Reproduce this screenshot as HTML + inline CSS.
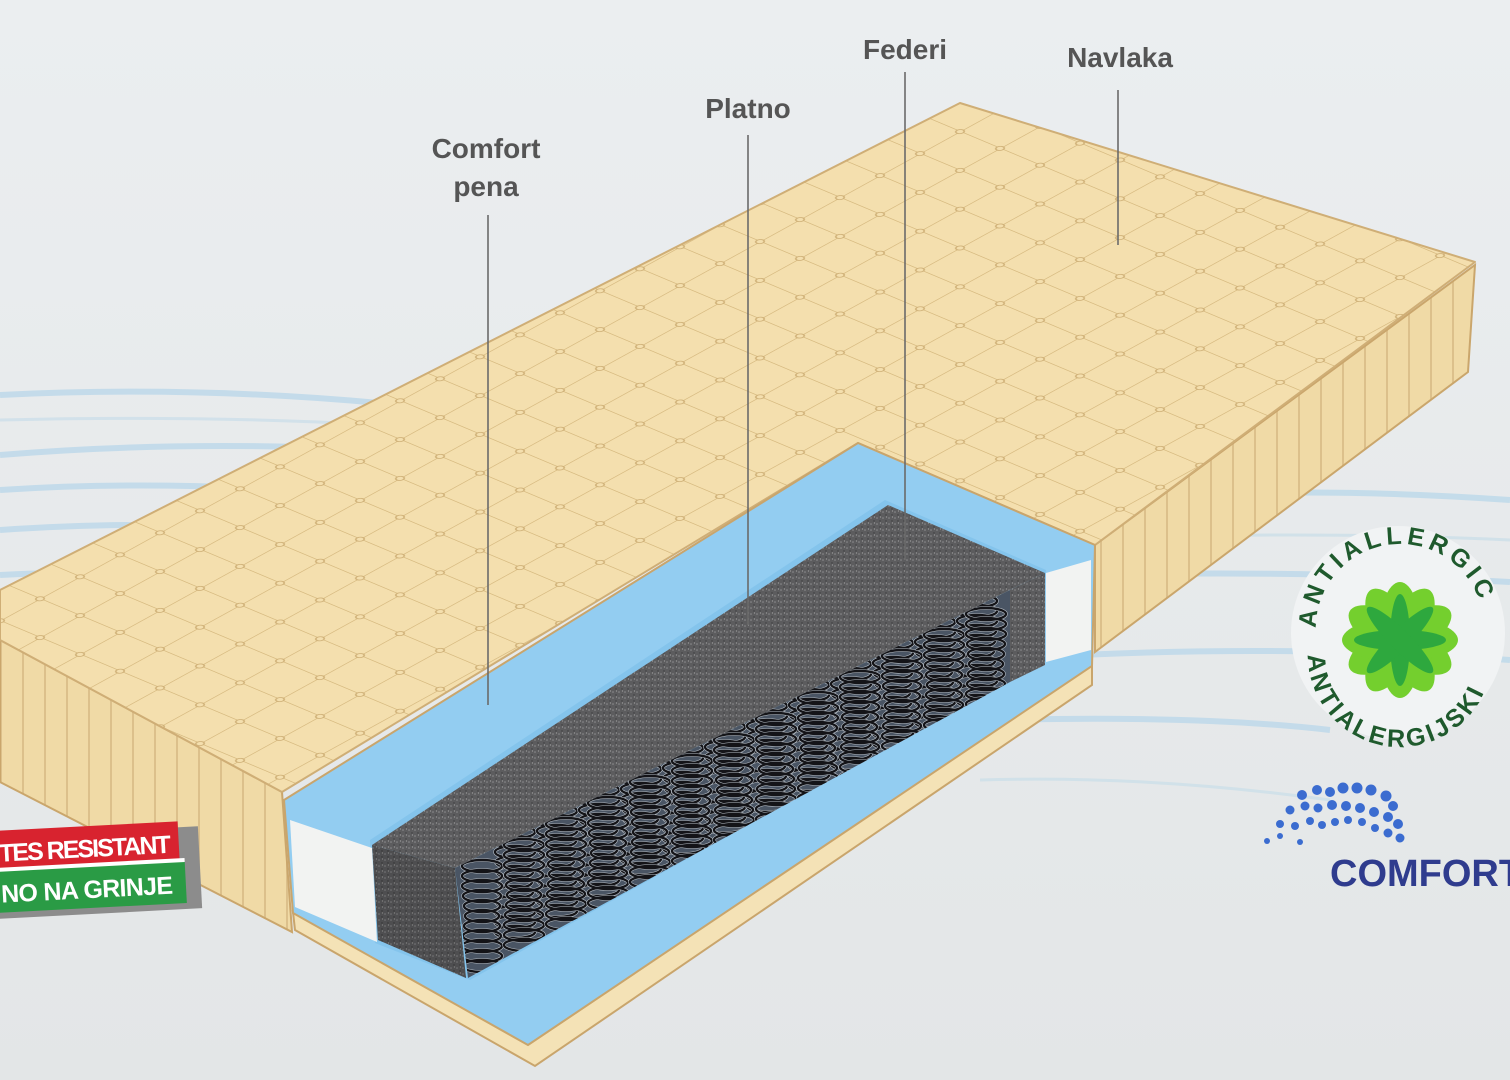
<!DOCTYPE html>
<html><head><meta charset="utf-8"><style>
html,body{margin:0;padding:0;background:#e7eaeb;}
svg{display:block}
text{font-family:"Liberation Sans",sans-serif;}
</style></head><body>
<svg width="1510" height="1080" viewBox="0 0 1510 1080" xmlns="http://www.w3.org/2000/svg">
<defs>
<linearGradient id="bg" x1="0" y1="0" x2="0" y2="1"><stop offset="0" stop-color="#ebeef0"/><stop offset="1" stop-color="#e3e6e7"/></linearGradient>
<pattern id="quilt" width="40" height="40" patternUnits="userSpaceOnUse" patternTransform="matrix(1,-0.55,1,0.42,0,0)">
<rect width="40" height="40" fill="#f4dfae"/>
<path d="M0 0H40M0 0V40" stroke="#d6b97f" stroke-width="1.6" fill="none"/>
<circle cx="0" cy="0" r="3" fill="#f4dfae" stroke="#cfb077" stroke-width="1.2"/>
<circle cx="40" cy="0" r="3" fill="#f4dfae" stroke="#cfb077" stroke-width="1.2"/>
<circle cx="0" cy="40" r="3" fill="#f4dfae" stroke="#cfb077" stroke-width="1.2"/>
<circle cx="40" cy="40" r="3" fill="#f4dfae" stroke="#cfb077" stroke-width="1.2"/>
</pattern>
<pattern id="stripes" width="22" height="40" patternUnits="userSpaceOnUse">
<rect width="22" height="40" fill="#f0daa6"/>
<rect width="2" height="40" fill="#dcc08b"/>
</pattern>
<pattern id="felt" width="6" height="6" patternUnits="userSpaceOnUse">
<rect width="6" height="6" fill="#5c5c5e"/>
<circle cx="1" cy="2" r="0.8" fill="#8e8e90"/><circle cx="4" cy="5" r="0.7" fill="#3b3b3d"/><circle cx="4.5" cy="1" r="0.6" fill="#a0a0a0"/>
</pattern>
<g id="spring">
<g fill="none" stroke="#b9c0c8" stroke-width="3.5">
<ellipse cx="0" cy="0" rx="20" ry="6"/><ellipse cx="0" cy="10" rx="20" ry="6"/><ellipse cx="0" cy="20" rx="20" ry="6"/><ellipse cx="0" cy="30" rx="19" ry="6"/><ellipse cx="0" cy="40" rx="18" ry="6"/><ellipse cx="0" cy="50" rx="17" ry="6"/><ellipse cx="0" cy="60" rx="18" ry="6"/><ellipse cx="0" cy="70" rx="19" ry="6"/><ellipse cx="0" cy="80" rx="20" ry="6"/><ellipse cx="0" cy="90" rx="20" ry="6"/><ellipse cx="0" cy="100" rx="20" ry="6"/>
</g>
<g fill="none" stroke="#141418" stroke-width="2.4">
<ellipse cx="0" cy="0" rx="20" ry="6"/><ellipse cx="0" cy="10" rx="20" ry="6"/><ellipse cx="0" cy="20" rx="20" ry="6"/><ellipse cx="0" cy="30" rx="19" ry="6"/><ellipse cx="0" cy="40" rx="18" ry="6"/><ellipse cx="0" cy="50" rx="17" ry="6"/><ellipse cx="0" cy="60" rx="18" ry="6"/><ellipse cx="0" cy="70" rx="19" ry="6"/><ellipse cx="0" cy="80" rx="20" ry="6"/><ellipse cx="0" cy="90" rx="20" ry="6"/><ellipse cx="0" cy="100" rx="20" ry="6"/>
</g>
</g>
<clipPath id="inner"><polygon points="455,868 1010,590 1010,682 468,978"/></clipPath>
</defs>
<rect width="1510" height="1080" fill="url(#bg)"/>
<g fill="none" stroke="#bcd8ea" stroke-width="6" opacity="0.8">
<path d="M0 395 Q200 385 400 405"/>
<path d="M0 455 Q180 440 380 450"/>
<path d="M0 490 Q150 480 320 492"/>
<path d="M0 530 Q150 520 270 530"/>
<path d="M0 575 Q80 570 160 578"/>
<path d="M1100 500 Q1300 485 1510 500"/>
<path d="M1100 575 Q1300 570 1510 582"/>
<path d="M1080 655 Q1300 645 1510 660"/>
<path d="M1000 720 Q1200 715 1330 730"/>
</g>
<g fill="none" stroke="#ccdfe9" stroke-width="3" opacity="0.8">
<path d="M980 780 Q1150 775 1330 800"/>
<path d="M1060 540 Q1300 530 1510 540"/>
<path d="M0 420 Q200 415 380 425"/>
</g>
<polygon points="0,640 282,792 292,932 0,782" fill="url(#stripes)" stroke="#caa66c" stroke-width="2"/>
<polygon points="1095,545 1475,265 1468,372 1095,652" fill="url(#stripes)" stroke="#caa66c" stroke-width="2"/>
<polygon points="0,590 960,103 1475,262 1095,545 858,443 282,792 0,640" fill="url(#quilt)" stroke="#cfae76" stroke-width="2" stroke-linejoin="round"/>
<polygon points="293,912 528,1045 1092,665 1092,685 535,1066 295,930" fill="#f4e2b6" stroke="#c9a56c" stroke-width="2"/>
<polygon points="284,800 858,443 1095,545 1092,666 528,1045 293,913" fill="#93cdf1" stroke="#c9a56c" stroke-width="2"/>
<polygon points="370,840 885,500 1046,570 1040,662 470,980 375,943" fill="#84c4ec"/>
<polygon points="290,820 372,848 377,942 295,907" fill="#f2f3f2"/>
<polygon points="1046,573 1091,560 1091,650 1046,662" fill="#f2f3f2"/>
<polygon points="455,868 1010,590 1010,682 468,978" fill="#4a5564"/>
<g clip-path="url(#inner)">
<use href="#spring" x="515" y="832"/><use href="#spring" x="557" y="811"/><use href="#spring" x="599" y="790"/><use href="#spring" x="641" y="769"/><use href="#spring" x="683" y="748"/><use href="#spring" x="725" y="727"/><use href="#spring" x="767" y="706"/><use href="#spring" x="809" y="685"/><use href="#spring" x="851" y="664"/><use href="#spring" x="893" y="643"/><use href="#spring" x="935" y="622"/><use href="#spring" x="977" y="601"/>
<use href="#spring" x="482" y="866"/><use href="#spring" x="524" y="845"/><use href="#spring" x="566" y="824"/><use href="#spring" x="608" y="803"/><use href="#spring" x="650" y="782"/><use href="#spring" x="692" y="761"/><use href="#spring" x="734" y="740"/><use href="#spring" x="776" y="719"/><use href="#spring" x="818" y="698"/><use href="#spring" x="860" y="677"/><use href="#spring" x="902" y="656"/><use href="#spring" x="944" y="635"/><use href="#spring" x="986" y="614"/>
</g>
<polygon points="372,845 888,505 1045,573 1010,590 455,868" fill="url(#felt)"/>
<polygon points="372,845 455,868 466,978 378,940" fill="url(#felt)"/>
<polygon points="1010,590 1045,573 1045,665 1010,682" fill="url(#felt)"/>
<polygon points="372,845 455,868 466,978 378,940" fill="#000" opacity="0.15"/>
<g stroke="#6a6a6a" stroke-width="1.6">
<line x1="905" y1="72" x2="905" y2="560"/>
<line x1="1118" y1="90" x2="1118" y2="245"/>
<line x1="748" y1="135" x2="748" y2="625"/>
<line x1="488" y1="215" x2="488" y2="705"/>
</g>
<g font-size="28" font-weight="bold" fill="#555" text-anchor="middle">
<text x="905" y="59">Federi</text>
<text x="1120" y="67">Navlaka</text>
<text x="748" y="118">Platno</text>
<text x="486" y="158">Comfort</text>
<text x="486" y="196">pena</text>
</g>
<g transform="rotate(-3 90 870)">
<rect x="-10" y="832" width="210" height="82" fill="#8c8c8c"/>
<rect x="-10" y="826" width="190" height="40" fill="#d8232f"/>
<rect x="-10" y="866" width="195" height="42" fill="#2a9b45"/>
<rect x="-10" y="863" width="195" height="4" fill="#fff"/>
<text x="0" y="857" font-size="25" font-weight="bold" fill="#fff" textLength="172">TES RESISTANT</text>
<text x="0" y="898" font-size="25" font-weight="bold" fill="#fff" textLength="172">NO NA GRINJE</text>
</g>
<circle cx="1398" cy="633" r="107" fill="#f1f3f4"/>
<g transform="translate(1400,640)">
<g fill="#74cf2e">
<ellipse rx="22" ry="58" transform="rotate(0)"/><ellipse rx="22" ry="58" transform="rotate(30)"/><ellipse rx="22" ry="58" transform="rotate(60)"/><ellipse rx="22" ry="58" transform="rotate(90)"/><ellipse rx="22" ry="58" transform="rotate(120)"/><ellipse rx="22" ry="58" transform="rotate(150)"/>
</g>
<g fill="#2ea83e">
<ellipse rx="10" ry="46" transform="rotate(0)"/><ellipse rx="10" ry="46" transform="rotate(45)"/><ellipse rx="10" ry="46" transform="rotate(90)"/><ellipse rx="10" ry="46" transform="rotate(135)"/>
</g>
</g>
<path id="arcTop" d="M1316 628 A84 84 0 0 1 1484 628" fill="none"/>
<path id="arcBot" d="M1308 655 A92 92 0 0 0 1492 655" fill="none"/>
<text font-size="25" font-weight="bold" fill="#1f5a2d"><textPath href="#arcTop" textLength="235">ANTIALLERGIC</textPath></text>
<text font-size="25" font-weight="bold" fill="#1f5a2d"><textPath href="#arcBot" textLength="250">ANTIALERGIJSKI</textPath></text>
<g fill="#3b6cd0">
<circle cx="1267" cy="841" r="3"/><circle cx="1280" cy="836" r="3"/><circle cx="1300" cy="842" r="3"/>
<circle cx="1280" cy="824" r="4"/><circle cx="1295" cy="826" r="4"/><circle cx="1310" cy="821" r="4"/><circle cx="1322" cy="825" r="4"/><circle cx="1335" cy="822" r="4"/><circle cx="1348" cy="820" r="4"/><circle cx="1362" cy="822" r="4"/><circle cx="1375" cy="828" r="4"/><circle cx="1388" cy="833" r="4.5"/><circle cx="1400" cy="838" r="4.5"/>
<circle cx="1290" cy="810" r="4.5"/><circle cx="1305" cy="806" r="4.5"/><circle cx="1318" cy="808" r="4.5"/><circle cx="1332" cy="805" r="5"/><circle cx="1346" cy="806" r="5"/><circle cx="1360" cy="808" r="5"/><circle cx="1374" cy="812" r="5"/><circle cx="1388" cy="817" r="5"/><circle cx="1398" cy="824" r="5"/>
<circle cx="1302" cy="795" r="5"/><circle cx="1317" cy="790" r="5"/><circle cx="1330" cy="792" r="5"/><circle cx="1343" cy="788" r="5.5"/><circle cx="1357" cy="788" r="5.5"/><circle cx="1371" cy="790" r="5.5"/><circle cx="1386" cy="796" r="5.5"/><circle cx="1393" cy="806" r="5"/>
</g>
<text x="1330" y="886" font-size="38" font-weight="bold" fill="#2f3c8e">COMFORT</text>
</svg>
</body></html>
